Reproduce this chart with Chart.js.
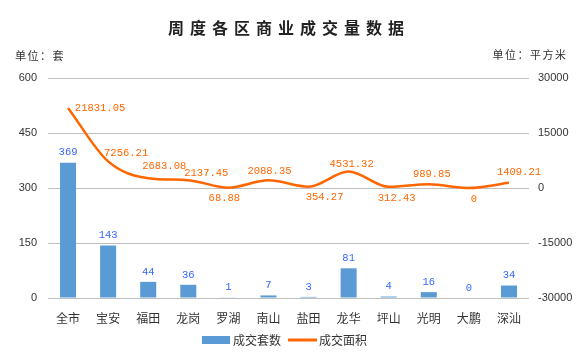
<!DOCTYPE html>
<html><head><meta charset="utf-8">
<script src="https://cdn.jsdelivr.net/npm/chart.js@4/dist/chart.umd.min.js"></script>
<style>html,body{margin:0;padding:0;background:#fff;}canvas{display:block;}</style>
</head><body>
<canvas id="c" width="585" height="356"></canvas>
<script>
const categories = ['全市','宝安','福田','龙岗','罗湖','南山','盐田','龙华','坪山','光明','大鹏','深汕'];
const unitCounts = [369,143,44,36,1,7,3,81,4,16,0,34];
const areaValues = [21831.05,7256.21,2683.08,2137.45,68.88,2088.35,354.27,4531.32,312.43,989.85,0,1409.21];
const areaLabels = ['21831.05','7256.21','2683.08','2137.45','68.88','2088.35','354.27','4531.32','312.43','989.85','0','1409.21'];
const leftTicks = [0,150,300,450,600];
const rightTicks = [-30000,-15000,0,15000,30000];
const titleText = '周度各区商业成交量数据';
const leftUnit = '单位：套';
const rightUnit = '单位：平方米';
const seriesNames = ['成交套数','成交面积'];

const CJK = '"Noto Sans CJK SC", sans-serif';
const MONO = '"Liberation Mono", "DejaVu Sans Mono", monospace';
// label offsets (dx, dy) relative to each line point
const lineLabelOffsets = [[32,0],[18,-8],[16,-12],[18,-7],[-4,10],[1,-9],[16,11],[3,-7],[8,11],[3,-10],[5,11],[10,-11]];

const overlay = {
  id: 'overlay',
  afterDatasetsDraw(chart) {
    const ctx = chart.ctx;
    ctx.save();
    const barMeta = chart.getDatasetMeta(0);
    ctx.font = '10.5px ' + MONO;
    ctx.fillStyle = '#3366ff';
    ctx.textAlign = 'center';
    ctx.textBaseline = 'middle';
    barMeta.data.forEach((el, i) => {
      ctx.fillText(String(unitCounts[i]), el.x, el.y - 10);
    });
    const lineMeta = chart.getDatasetMeta(1);
    ctx.fillStyle = '#ff6600';
    lineMeta.data.forEach((el, i) => {
      const o = lineLabelOffsets[i];
      ctx.fillText(areaLabels[i], el.x + o[0], el.y + o[1]);
    });
    ctx.restore();
  },
  afterDraw(chart) {
    const ctx = chart.ctx;
    ctx.save();
    ctx.fillStyle = '#222';
    ctx.font = 'bold 16px ' + CJK;
    ctx.textBaseline = 'middle';
    ctx.textAlign = 'left';
    ctx.letterSpacing = '6px';
    const tw = ctx.measureText(titleText).width - 6;
    ctx.fillText(titleText, 286 - tw / 2, 28);
    ctx.font = '11px ' + CJK;
    ctx.letterSpacing = '1.5px';
    ctx.fillStyle = '#333';
    ctx.fillText(leftUnit, 15, 56);
    const uw = ctx.measureText(rightUnit).width - 1.5;
    ctx.fillText(rightUnit, 566 - uw, 55);
    ctx.letterSpacing = '0px';
    ctx.fillStyle = '#5b9bd5';
    ctx.fillRect(202, 336, 28, 8);
    ctx.fillStyle = '#333';
    ctx.font = '12px ' + CJK;
    ctx.fillText(seriesNames[0], 233, 340);
    ctx.strokeStyle = '#ff6600';
    ctx.lineWidth = 3;
    ctx.beginPath();
    ctx.moveTo(288, 340);
    ctx.lineTo(317, 340);
    ctx.stroke();
    ctx.fillText(seriesNames[1], 319, 340);
    ctx.restore();
  }
};

const plainTick = v => String(v);

new Chart(document.getElementById('c'), {
  data: {
    labels: categories,
    datasets: [
      {
        type: 'bar',
        label: seriesNames[0],
        data: unitCounts,
        backgroundColor: '#5b9bd5',
        yAxisID: 'y',
        barPercentage: 0.4,
        categoryPercentage: 1.0,
        order: 2
      },
      {
        type: 'line',
        label: seriesNames[1],
        data: areaValues,
        borderColor: '#ff6600',
        borderWidth: 2.5,
        pointRadius: 0,
        cubicInterpolationMode: 'monotone',
        fill: false,
        yAxisID: 'y1',
        order: 1
      }
    ]
  },
  options: {
    responsive: false,
    animation: false,
    layout: { padding: { top: 78, left: 0, right: 0, bottom: 0 } },
    plugins: { legend: { display: false }, title: { display: false }, tooltip: { enabled: false } },
    scales: {
      x: {
        grid: { display: false },
        border: { display: false },
        ticks: { color: '#333', font: { family: CJK, size: 12 }, padding: 5, maxRotation: 0, autoSkip: false },
        afterFit(s) { s.height = 58; }
      },
      y: {
        position: 'left',
        min: 0, max: 600,
        afterBuildTicks(s) { s.ticks = leftTicks.map(v => ({ value: v })); },
        grid: { color: '#c0c0c0', drawTicks: false, lineWidth: 1 },
        border: { display: false },
        ticks: { color: '#333', font: { family: '"Liberation Sans", Arial, sans-serif', size: 11 }, padding: 11, callback: plainTick },
        afterFit(s) { s.width = 48; }
      },
      y1: {
        position: 'right',
        min: -30000, max: 30000,
        afterBuildTicks(s) { s.ticks = rightTicks.map(v => ({ value: v })); },
        grid: { display: false, drawTicks: false },
        border: { display: false },
        ticks: { color: '#333', font: { family: '"Liberation Sans", Arial, sans-serif', size: 11 }, padding: 9, callback: plainTick },
        afterFit(s) { s.width = 56; }
      }
    }
  },
  plugins: [overlay]
});
</script>
</body></html>
